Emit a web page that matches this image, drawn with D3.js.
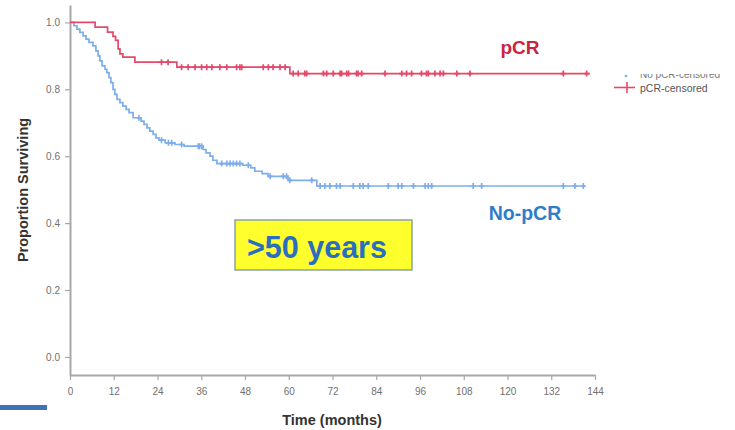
<!DOCTYPE html>
<html>
<head>
<meta charset="utf-8">
<script src="https://cdn.jsdelivr.net/npm/d3@7"></script>
<style>
  body { margin: 0; background: #fff; }
  svg text { font-family: "Liberation Sans", Arial, sans-serif; }
</style>
</head>
<body>
<div id="chart"></div>
<script>
// pCR curve: step times (months) and survival after each step
var pcrTimes = [0, 6.9, 10.3, 11.8, 12.5, 13.2, 13.7, 14.5, 17.8, 29.3, 60.3];
var pcrSurv = [1.0, 0.986, 0.971, 0.958, 0.946, 0.921, 0.906, 0.896, 0.881, 0.866, 0.847];
var pcrEnd = 142.6;
var pcrCensored = [25.1, 26.9, 30.6, 32.4, 34.3, 36.1, 37.5, 38.9, 41.1, 43, 45.7, 46.6, 47.1,
    53, 54.4, 55.7, 57.6, 59, 61.2, 62.6, 64.4, 64.9, 69.5, 70.4, 72.2, 74.1, 74.5, 75.9, 76.4,
    78.6, 79, 80, 86.4, 91, 92.3, 93.7, 96.4, 97.8, 98.3, 100.1, 101.5, 102.4, 106.1, 109.7,
    135.3, 141.7];

// No-pCR curve
var nopcrTimes = [0, 1.1, 1.9, 2.7, 3.6, 4.4, 5.2, 6.3, 7.1, 7.7, 8.2, 8.8, 9.6, 10.1, 10.7,
    11.2, 11.8, 12.3, 12.9, 13.7, 14.5, 15.4, 16.2, 17.3, 19.5, 20.3, 21.1, 21.9, 22.8, 23.6,
    24.4, 26.1, 28.8, 31.3, 36.5, 37.3, 38.4, 39.2, 40.3, 47.4, 49.6, 50.7, 52.7, 54.3, 59.8, 67.7];
var nopcrSurv = [1.0, 0.99, 0.98, 0.97, 0.96, 0.95, 0.94, 0.93, 0.915, 0.90, 0.885, 0.87, 0.86,
    0.85, 0.835, 0.82, 0.80, 0.785, 0.77, 0.76, 0.75, 0.74, 0.73, 0.715, 0.705, 0.695, 0.685,
    0.675, 0.665, 0.655, 0.648, 0.64, 0.635, 0.63, 0.62, 0.61, 0.60, 0.588, 0.578, 0.573, 0.565,
    0.555, 0.548, 0.54, 0.528, 0.511];
var nopcrEnd = 141.2;
var nopcrCensored = [18.9, 25.1, 27, 27.9, 30.6, 35.2, 35.5, 36.1, 41.6, 43, 43.9, 44.8, 45.7,
    46.6, 48.9, 54.9, 58.5, 59.4, 60.3, 66.3, 68.6, 69.9, 71.3, 73.1, 74.1, 77.7, 79.5, 80.4,
    81.8, 87.3, 90, 91, 94.2, 97.4, 98.3, 99.2, 110.6, 112.9, 135.3, 138.5, 140.8];

var xTicks = [0, 12, 24, 36, 48, 60, 72, 84, 96, 108, 120, 132, 144];
var yTicks = [0.0, 0.2, 0.4, 0.6, 0.8, 1.0];

var width = 735, height = 430;
var redColor = "#e4486a", blueColor = "#7eaeea";

var svg = d3.select("#chart").append("svg")
    .attr("width", width)
    .attr("height", height);

var x = d3.scaleLinear().domain([0, 144]).range([70, 595]);
var y = d3.scaleLinear().domain([-0.054, 1.052]).range([375, 5]);

// axes
var xAxis = svg.append("g")
    .attr("transform", "translate(0,375)")
    .call(d3.axisBottom(x).tickValues(xTicks).tickSize(5).tickSizeOuter(0).tickPadding(8));
var yAxis = svg.append("g")
    .attr("transform", "translate(70,0)")
    .call(d3.axisLeft(y).tickValues(yTicks).tickFormat(d3.format(".1f")).tickSize(5).tickSizeOuter(0).tickPadding(5));

[xAxis, yAxis].forEach(function (ax) {
    ax.select(".domain").attr("stroke", "#a8a8a8").attr("stroke-width", 2);
    ax.selectAll(".tick line").attr("stroke", "#a8a8a8").attr("stroke-width", 1.2);
    ax.selectAll(".tick text").attr("fill", "#707070").style("font-size", "10px");
});

// axis titles
svg.append("text")
    .attr("transform", "translate(28,190) rotate(-90)")
    .attr("text-anchor", "middle")
    .style("font-size", "14.5px")
    .style("font-weight", "bold")
    .attr("fill", "#333")
    .text("Proportion Surviving");

svg.append("text")
    .attr("x", 332)
    .attr("y", 425)
    .attr("text-anchor", "middle")
    .style("font-size", "14.5px")
    .style("font-weight", "bold")
    .attr("fill", "#333")
    .text("Time (months)");

// step value at time t
function survAt(times, surv, t) {
    var i = d3.bisectRight(times, t) - 1;
    return surv[Math.max(0, i)];
}

function drawCurve(times, surv, end, censored, color) {
    var pts = times.map(function (t, i) { return [t, surv[i]]; });
    pts.push([end, surv[surv.length - 1]]);

    var line = d3.line()
        .x(function (d) { return x(d[0]); })
        .y(function (d) { return y(d[1]); })
        .curve(d3.curveStepAfter);

    svg.append("path")
        .datum(pts)
        .attr("d", line)
        .attr("fill", "none")
        .attr("stroke", color)
        .attr("stroke-width", 1.7);

    svg.append("g").selectAll("path")
        .data(censored)
        .join("path")
        .attr("transform", function (t) {
            return "translate(" + x(t) + "," + y(survAt(times, surv, t)) + ")";
        })
        .attr("d", "M-2.5,0H2.5M0,-3V3")
        .attr("stroke", color)
        .attr("stroke-width", 1.7);
}

drawCurve(nopcrTimes, nopcrSurv, nopcrEnd, nopcrCensored, blueColor);
drawCurve(pcrTimes, pcrSurv, pcrEnd, pcrCensored, redColor);

// curve labels
svg.append("text")
    .attr("x", 520).attr("y", 54)
    .attr("text-anchor", "middle")
    .style("font-size", "19px")
    .style("font-weight", "bold")
    .attr("fill", "#cc2440")
    .text("pCR");

svg.append("text")
    .attr("x", 525).attr("y", 220)
    .attr("text-anchor", "middle")
    .style("font-size", "19.5px")
    .style("font-weight", "bold")
    .attr("fill", "#2f7dca")
    .text("No-pCR");

// yellow box
svg.append("rect")
    .attr("x", 235).attr("y", 220)
    .attr("width", 177).attr("height", 50)
    .attr("fill", "#ffff2e")
    .attr("stroke", "#8aa3a3")
    .attr("stroke-width", 1.5);

svg.append("text")
    .attr("x", 247).attr("y", 258)
    .style("font-size", "30.5px")
    .style("font-weight", "bold")
    .attr("fill", "#2a6fbf")
    .text(">50 years");

// legend (top entry is cut off in the original)
svg.append("clipPath").attr("id", "legclip")
    .append("rect").attr("x", 600).attr("y", 74).attr("width", 135).attr("height", 30);

svg.append("circle")
    .attr("cx", 626).attr("cy", 76).attr("r", 1.3)
    .attr("fill", blueColor);
svg.append("text")
    .attr("x", 640).attr("y", 78)
    .attr("clip-path", "url(#legclip)")
    .style("font-size", "10px")
    .attr("fill", "#777")
    .text("No pCR-censored");

svg.append("line")
    .attr("x1", 614).attr("x2", 635).attr("y1", 87.5).attr("y2", 87.5)
    .attr("stroke", redColor).attr("stroke-width", 1.6);
svg.append("line")
    .attr("x1", 627).attr("x2", 627).attr("y1", 82).attr("y2", 93)
    .attr("stroke", redColor).attr("stroke-width", 1.6);
svg.append("text")
    .attr("x", 640).attr("y", 92)
    .style("font-size", "10.5px")
    .attr("fill", "#555")
    .text("pCR-censored");

// blue bar bottom-left
svg.append("rect")
    .attr("x", 0).attr("y", 405)
    .attr("width", 47).attr("height", 5)
    .attr("fill", "#3f72b8");
</script>
</body>
</html>
